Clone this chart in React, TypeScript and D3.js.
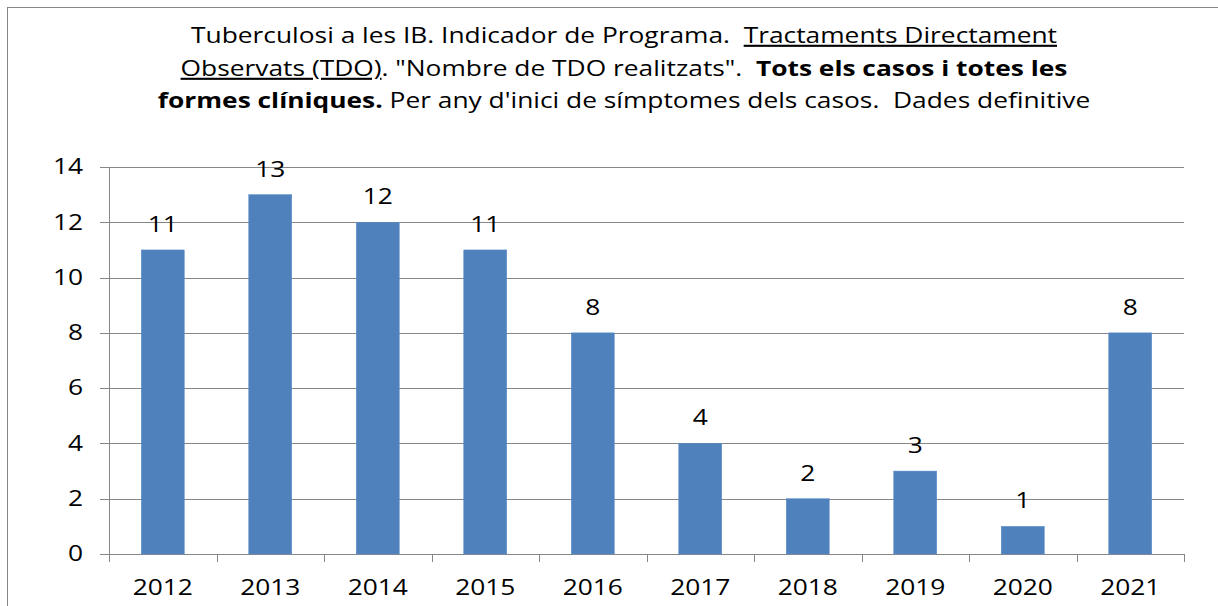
import React from 'react';
import * as d3 from 'd3';

const years = ['2012', '2013', '2014', '2015', '2016', '2017', '2018', '2019', '2020', '2021'];
const tdoCount = [11, 13, 12, 11, 8, 4, 2, 3, 1, 8];
const yTicks = [0, 2, 4, 6, 8, 10, 12, 14];

const W = 1218;
const H = 606;
const FONT = '"Open Sans", "Noto Sans", sans-serif';
const GRID = '#868686';
const SX = 1.255; // the reference text is stretched sideways

const Txt = ({ x, y, anchor = 'middle', children, dy }: any) => (
    <text transform={`translate(${x},${y}) scale(${SX},1)`} dy={dy} textAnchor={anchor} fontSize={21} fill="#000">
        {children}
    </text>
);

const App = () => {
    const x = d3.scaleBand<string>()
        .domain(years)
        .range([109, 1184])
        .paddingInner(0.6)
        .paddingOuter(0.3);

    const y = d3.scaleLinear()
        .domain([0, 14])
        .range([554, 167]);

    const band = (x.range()[1] - x.range()[0]) / years.length;
    const tickXs = d3.range(years.length + 1).map(i => x.range()[0] + i * band);

    return (
        <svg width={W} height={H} style={{ position: 'absolute', left: 0, top: 0 }} fontFamily={FONT}>
            <rect x={0} y={0} width={W} height={H} fill="#fff" />
            <rect x={7.5} y={7.5} width={W + 10} height={H + 10} fill="none" stroke={GRID} strokeWidth={1} />

            {/* title */}
            <g transform={`translate(624,0) scale(${SX},1)`}>
                <text textAnchor="middle" fontSize={21} fill="#000">
                    <tspan x={0} y={43}>
                        Tuberculosi a les IB. Indicador de Programa.{'\u00a0 '}
                        <tspan textDecoration="underline">Tractaments Directament</tspan>
                    </tspan>
                    <tspan x={0} y={76}>
                        <tspan textDecoration="underline">Observats (TDO)</tspan>. "Nombre de TDO realitzats".{'\u00a0 '}
                        <tspan fontWeight="bold">Tots els casos i totes les</tspan>
                    </tspan>
                    <tspan x={0} y={108}>
                        <tspan fontWeight="bold">formes clíniques.</tspan> Per any d'inici de símptomes dels casos.{'\u00a0 '}Dades definitive
                    </tspan>
                </text>
            </g>

            {/* gridlines */}
            {yTicks.map(t => (
                <g key={t}>
                    <line x1={100} x2={1184} y1={Math.round(y(t)) + 0.5} y2={Math.round(y(t)) + 0.5} stroke={GRID} strokeWidth={1} />
                    <Txt x={83} y={y(t)} dy="0.35em" anchor="end">{t}</Txt>
                </g>
            ))}

            {/* y axis */}
            <line x1={109.5} x2={109.5} y1={y(14)} y2={y(0)} stroke={GRID} strokeWidth={1} />

            {/* bars */}
            {years.map((yr, i) => (
                <rect key={yr} x={x(yr)} y={y(tdoCount[i])} width={x.bandwidth()} height={y(0) - y(tdoCount[i])}
                    fill="#4F81BD" stroke="#5B8DC8" strokeWidth={0.5} />
            ))}

            {/* bottom ticks */}
            {tickXs.map((tx, i) => (
                <line key={i} x1={Math.round(tx) + 0.5} x2={Math.round(tx) + 0.5} y1={y(0)} y2={y(0) + 8} stroke={GRID} strokeWidth={1} />
            ))}

            {/* x labels */}
            {years.map(yr => (
                <Txt key={yr} x={x(yr)! + x.bandwidth() / 2} y={595}>{yr}</Txt>
            ))}

            {/* data labels */}
            {years.map((yr, i) => (
                <Txt key={yr} x={x(yr)! + x.bandwidth() / 2} y={y(tdoCount[i]) - 18}>{tdoCount[i]}</Txt>
            ))}
        </svg>
    );
};

export default App;
